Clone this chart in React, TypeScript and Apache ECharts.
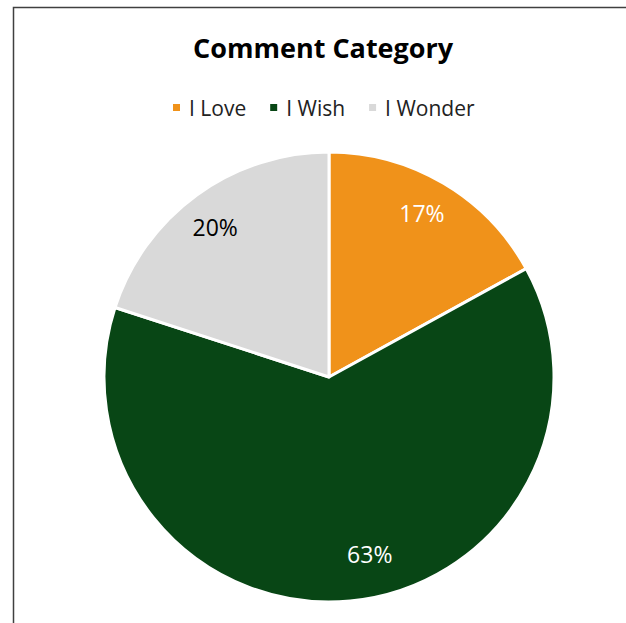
import React, { useEffect, useRef } from "react";
import * as echarts from "echarts";

const categories = ["I Love", "I Wish", "I Wonder"];
const values = [17, 63, 20];
const colors = ["#F0921A", "#084615", "#D9D9D9"];
const labelColors = ["#FFFFFF", "#FFFFFF", "#000000"];
const labelNudgeX = [-3, 23, -3];
const labelNudgeY = [-2, -11, 2];

export default function App() {
  const ref = useRef<HTMLDivElement>(null);
  useEffect(() => {
    if (!ref.current) return;
    const chart = echarts.init(ref.current, undefined, { renderer: "svg" });
    const data = categories.map((name, i) => ({
      name,
      value: values[i],
      itemStyle: { color: colors[i] },
    }));
    const labelData = categories.map((name, i) => ({
      name,
      value: values[i],
      label: { color: labelColors[i] },
    }));
    chart.setOption({
      animation: false,
      backgroundColor: "#FFFFFF",
      title: {
        text: "Comment Category",
        left: 188,
        top: 29,
        textStyle: {
          fontFamily: "Open Sans",
          fontWeight: "bold",
          fontSize: 27,
          color: "#000000",
        },
      },
      legend: {
        data: categories,
        left: 166,
        top: 92,
        itemWidth: 9,
        itemHeight: 9,
        itemGap: 22,
        icon: "rect",
        selectedMode: false,
        textStyle: {
          fontFamily: "Open Sans",
          fontSize: 21,
          color: "#222222",
          padding: [0, 0, 0, 3],
        },
      },
      graphic: [
        {
          type: "rect",
          shape: { x: 13.5, y: 7.5, width: 800, height: 800 },
          style: { fill: "none", stroke: "#404040", lineWidth: 1.5 },
          silent: true,
        },
      ],
      series: [
        {
          type: "pie",
          center: [329, 377],
          radius: [0, 225],
          startAngle: 90,
          clockwise: true,
          data,
          label: { show: false },
          labelLine: { show: false },
          itemStyle: { borderColor: "#FFFFFF", borderWidth: 3 },
          emphasis: { disabled: true },
        },
        {
          type: "pie",
          center: [329, 377],
          radius: [146, 225],
          startAngle: 90,
          clockwise: true,
          silent: true,
          data: labelData,
          itemStyle: { color: "rgba(0,0,0,0)" },
          label: {
            show: true,
            position: "inside",
            formatter: "{d}%",
            fontFamily: "Open Sans",
            fontSize: 23,
          },
          labelLayout: (p: any) => ({
            dx: labelNudgeX[p.dataIndex],
            dy: labelNudgeY[p.dataIndex],
          }),
          labelLine: { show: false },
          emphasis: { disabled: true },
        },
      ],
    });
    return () => chart.dispose();
  }, []);
  return (
    <div
      ref={ref}
      style={{ position: "fixed", left: 0, top: 0, width: 626, height: 623 }}
    />
  );
}
